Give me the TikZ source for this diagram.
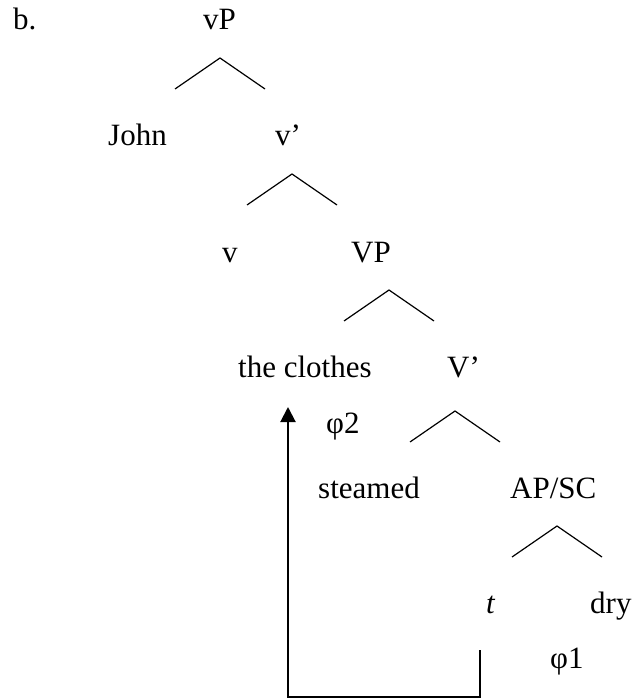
\documentclass[tikz,border=0pt]{standalone}
\usepackage{fontspec}
\setmainfont{Liberation Serif}
\usetikzlibrary{arrows.meta}
\begin{document}
\begin{tikzpicture}[x=1pt,y=-1pt,
    lbl/.style={anchor=base west,inner sep=0pt,font=\fontsize{31}{36}\selectfont},
    branch/.style={line width=1.2pt}]
    \useasboundingbox (0,0) rectangle (632,700);
    \node[lbl] (ex) at (13,30) {b.};
    \node[lbl] (vP) at (203,30) {vP};
    \node[lbl] (john) at (108,146) {John};
    \node[lbl] (vbar) at (275,146) {v’};
    \node[lbl] (v) at (222,262) {v};
    \node[lbl] (VP) at (351,262) {VP};
    \node[lbl] (clothes) at (238,377) {the clothes};
    \node[lbl] (Vbar) at (447,377) {V’};
    \node[lbl] (phitwo) at (326,433) {φ2};
    \node[lbl] (steamed) at (318,498) {steamed};
    \node[lbl] (apsc) at (510,498) {AP/SC};
    \node[lbl] (trace) at (486,613) {\itshape t};
    \node[lbl] (dry) at (590,613) {dry};
    \node[lbl] (phione) at (550,668) {φ1};
    % branches
    \foreach \x/\y in {220/58,292/174,389/290,455/411,557/526}
      \draw[branch] (\x-45,\y+31) -- (\x,\y) -- (\x+45,\y+31);
    % movement of the trace
    \coordinate (tfoot) at (480,650);
    \coordinate (landing) at (288,407);
    \draw[line width=2pt,-{Triangle[length=15pt,width=15pt]}]
      (tfoot) -- (tfoot |- 0,697) -- (landing |- 0,697) -- (landing);
\end{tikzpicture}
\end{document}
